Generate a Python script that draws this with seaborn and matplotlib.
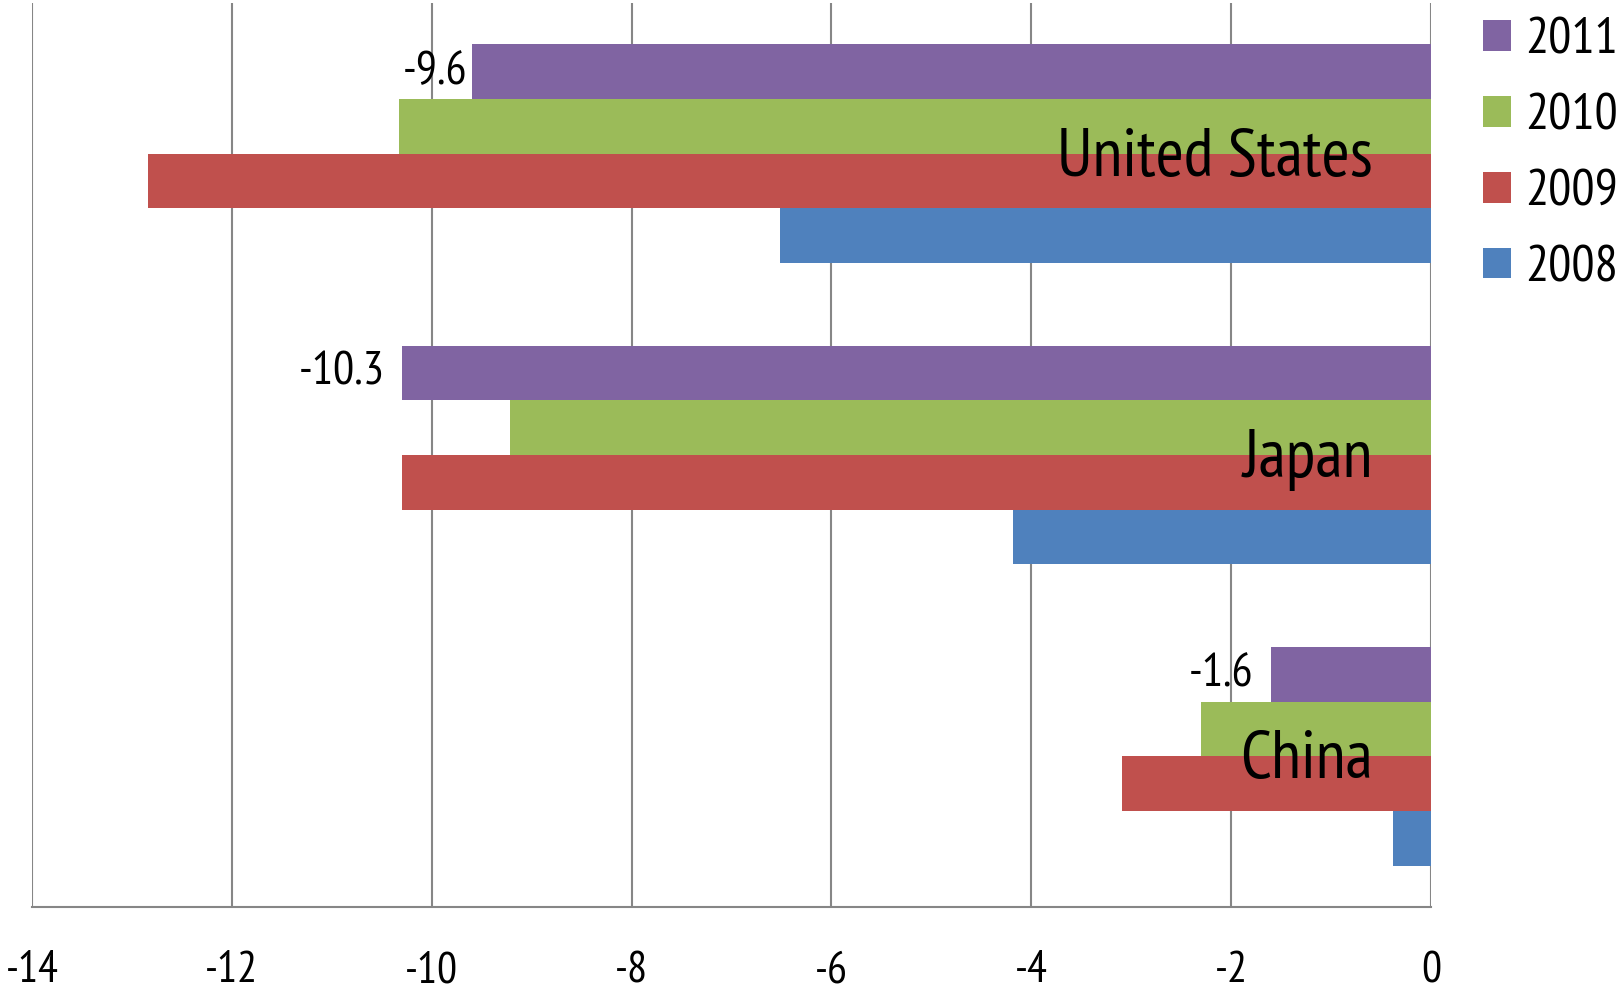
import matplotlib
matplotlib.use("Agg")
import matplotlib.pyplot as plt
from matplotlib import font_manager as fm
import seaborn as sns
import pandas as pd

countries = ["United States", "Japan", "China"]
years = ["2011", "2010", "2009", "2008"]
values_2011 = [-9.6, -10.3, -1.6]
values_2010 = [-10.33, -9.22, -2.30]
values_2009 = [-12.84, -10.30, -3.09]
values_2008 = [-6.51, -4.18, -0.38]
year_colors = ["#8064A2", "#9BBB59", "#C0504D", "#4F81BD"]
x_ticks = [-14, -12, -10, -8, -6, -4, -2, 0]

series = dict(zip(years, [values_2011, values_2010, values_2009, values_2008]))
df = pd.DataFrame(
    [(c, y, series[y][i]) for y in years for i, c in enumerate(countries)],
    columns=["country", "year", "value"],
)

# pick the first installed condensed sans family
installed = {f.name for f in fm.fontManager.ttflist}
preferred = ["PT Sans Narrow", "Barlow Condensed", "Roboto Condensed",
             "Archivo Narrow", "Liberation Sans Narrow", "DejaVu Sans"]
family = next(f for f in preferred if f in installed)

sns.set_style("white")
plt.rcParams["font.family"] = [family, "DejaVu Sans"]
plt.rcParams["text.color"] = "black"

fig = plt.figure(figsize=(16.22, 9.9), dpi=100)
ax = fig.add_axes([32 / 1622, 1 - 907 / 990, (1431 - 32) / 1622, (907 - 3) / 990])

sns.barplot(
    data=df, x="value", y="country", hue="year",
    order=countries, hue_order=years, palette=dict(zip(years, year_colors)),
    orient="h", width=0.726, saturation=1, linewidth=0, ax=ax, zorder=3,
)

ax.set_xlim(-14, 0)
ax.set_ylim(2.5, -0.5)
ax.set_xticks(x_ticks)
ax.set_xticklabels([str(t) for t in x_ticks], fontsize=32)
ax.tick_params(axis="x", length=0, pad=32, colors="black", labelcolor="black")
ax.set_yticks([])
ax.set_xlabel("")
ax.set_ylabel("")

ax.grid(axis="x", color="#868686", linewidth=1.5, zorder=0)
ax.grid(axis="y", visible=False)
for side in ["top", "left", "right"]:
    ax.spines[side].set_visible(False)
ax.spines["bottom"].set_color("#868686")
ax.spines["bottom"].set_linewidth(1.5)

# value labels at the ends of the 2011 bars
label_gaps = [3, 12, 13]
for bar, v, gap in zip(ax.containers[0], values_2011, label_gaps):
    ax.annotate(f"{v:.1f}", xy=(v, bar.get_y() + bar.get_height() / 2),
                xytext=(-gap, 0), textcoords="offset points",
                ha="right", va="center", fontsize=34, color="black", zorder=5)

# country names inside the plot, right-aligned near zero
for i, c in enumerate(countries):
    ax.text(-0.58, i + 0.073, c, ha="right", va="baseline", fontsize=49,
            color="black", zorder=6)

handles, labels = ax.get_legend_handles_labels()
ax.get_legend().remove()
fig.legend(
    handles, labels, loc="upper left", bbox_to_anchor=(1483 / 1622, 0.982),
    frameon=False, fontsize=37, handlelength=0.545, handleheight=0.545,
    handletextpad=0.27, labelspacing=0.58, borderpad=0, borderaxespad=0,
    labelcolor="black",
)

fig.savefig("out.png", dpi=100)
